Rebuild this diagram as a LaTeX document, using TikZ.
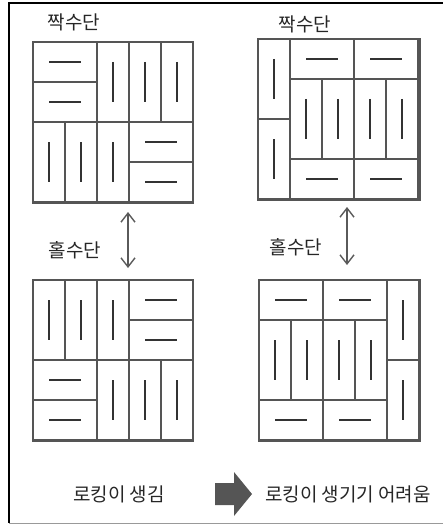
\documentclass[tikz,border=0pt]{standalone}
\usepackage{fontspec}
\newfontfamily\kr{Noto Sans CJK KR}
\usetikzlibrary{arrows.meta}
\definecolor{rand}{HTML}{555555}
\definecolor{strich}{HTML}{333333}
\definecolor{pfeil}{HTML}{5A5A5A}
% one course cell: 32 wide, 40 high
\newcommand{\hbrick}[2]{%
  \draw[brick] (#1*32,#2*40) rectangle ++(64,40);
  \draw[mid] (#1*32+16,#2*40+20) -- ++(32,0);}
\newcommand{\vbrick}[2]{%
  \draw[brick] (#1*32,#2*40) rectangle ++(32,80);
  \draw[mid] (#1*32+16,#2*40+20) -- ++(0,40);}

\begin{document}
\begin{tikzpicture}[x=1pt,y=-1pt,
  brick/.style={draw=rand,line width=1.7pt},
  mid/.style={draw=strich,line width=1.3pt},
  square/.style={draw=rand,line width=2.4pt},
  lab/.style={font={\kr\fontsize{19}{22}\selectfont},text=black!85,inner sep=0pt},
  dbl/.style={pfeil,line width=1.4pt,{Straight Barb[length=9pt,width=14pt]}-{Straight Barb[length=9pt,width=14pt]}}]
  \useasboundingbox (0,0) rectangle (443,524);
  % frame
  \draw[black,line width=1.4pt] (443,3) -- (9,3) -- (9,523);
  \draw[black!40,line width=1pt] (9,523) -- (443,523);

  % top left: even course
  \begin{scope}[shift={(33,42)}]
    \foreach \c/\r in {0/0,0/1,3/2,3/3} \hbrick{\c}{\r};
    \foreach \c/\r in {2/0,3/0,4/0,0/2,1/2,2/2} \vbrick{\c}{\r};
    \draw[square] (0,0) rectangle (160,161);
  \end{scope}
  % top right: even course
  \begin{scope}[shift={(258,39)}]
    \foreach \c/\r in {1/0,3/0,1/3,3/3} \hbrick{\c}{\r};
    \foreach \c/\r in {0/0,0/2,1/1,2/1,3/1,4/1} \vbrick{\c}{\r};
    \draw[square] (0,0) rectangle (162,161);
  \end{scope}
  % bottom left: odd course
  \begin{scope}[shift={(33,280)}]
    \foreach \c/\r in {3/0,3/1,0/2,0/3} \hbrick{\c}{\r};
    \foreach \c/\r in {0/0,1/0,2/0,2/2,3/2,4/2} \vbrick{\c}{\r};
    \draw[square] (0,0) rectangle (160,161);
  \end{scope}
  % bottom right: odd course
  \begin{scope}[shift={(259,280)}]
    \foreach \c/\r in {0/0,2/0,0/3,2/3} \hbrick{\c}{\r};
    \foreach \c/\r in {4/0,4/2,0/1,1/1,2/1,3/1} \vbrick{\c}{\r};
    \draw[square] (0,0) rectangle (161,161);
  \end{scope}

  \node[lab] (even1) at (74,22) {짝수단};
  \node[lab] (even2) at (305,24) {짝수단};
  \node[lab] (odd1) at (75,250) {홀수단};
  \node[lab] (odd2) at (296,247) {홀수단};

  \coordinate (l1) at (128,212); \coordinate (l2) at (128,268);
  \coordinate (r1) at (347,207); \coordinate (r2) at (347,265);
  \draw[dbl] (l1) -- (l2);
  \draw[dbl] (r1) -- (r2);

  \node[lab] (lock) at (119,494) {로킹이 생김};
  \node[lab] (nolock) at (348,494) {로킹이 생기기 어려움};
  \fill[rand] (215,483) -- (234,483) -- (234,472) -- (252,494)
    -- (234,516) -- (234,505) -- (215,505) -- cycle;
\end{tikzpicture}
\end{document}
